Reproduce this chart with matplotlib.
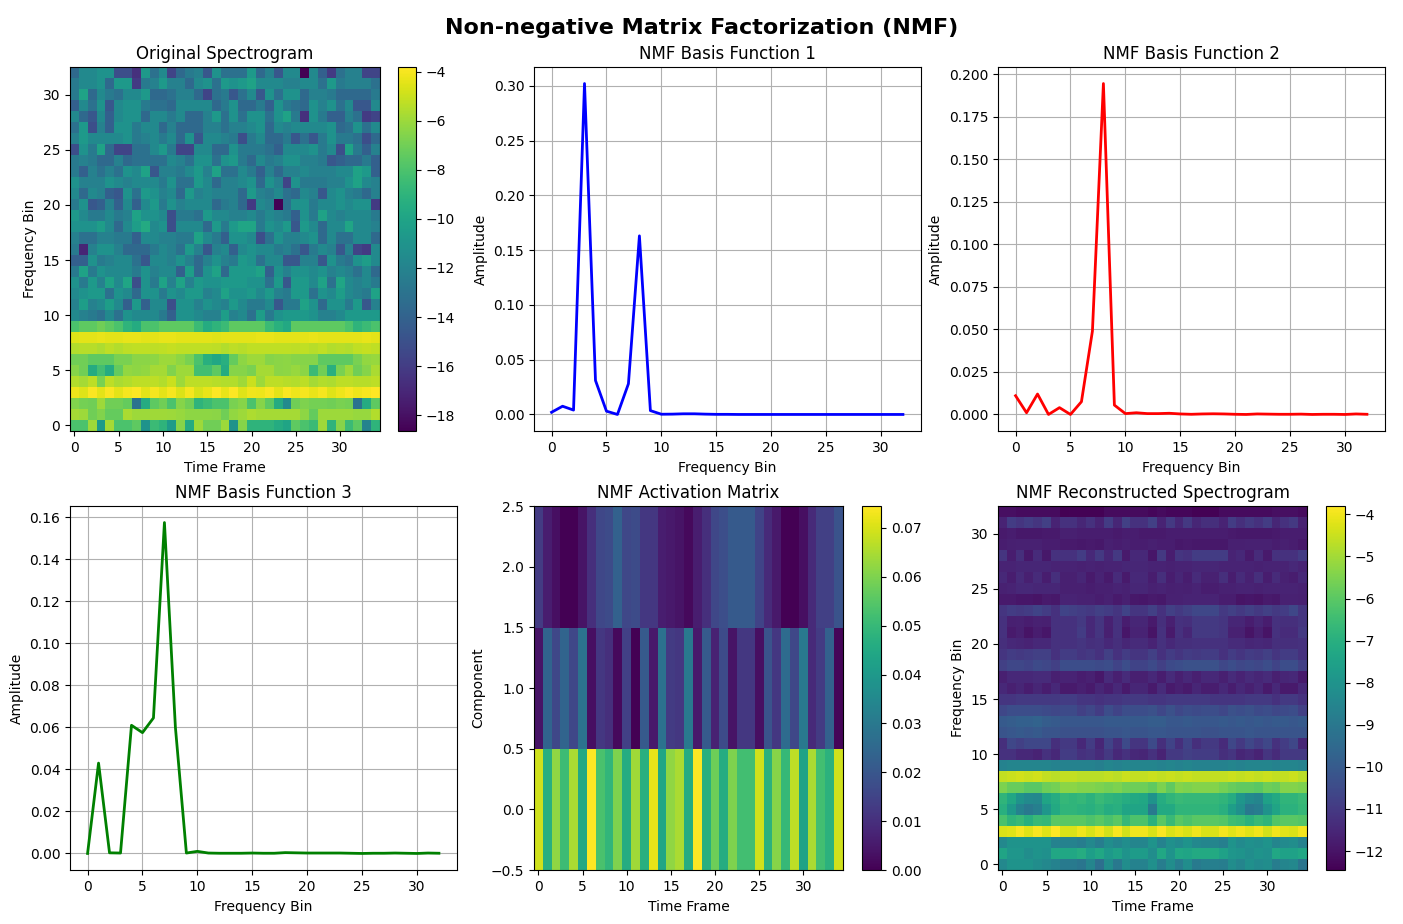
import numpy as np
import matplotlib
matplotlib.use("Agg")
import matplotlib.pyplot as plt

# Rows listed from the top of each picture (bin 32) down to bin 0
original_spectrogram = [
 [-13,-11,-11,-10.5,-10.5, -14.5,-14.5,-16,-10,-12.5, -11,-15,-13,-12,-11.5, -14,-10.5,-12.5,-12.5,-12.5, -10,-13,-11.5,-14,-11, -11,-18.6,-11,-13.5,-15.5, -12.5,-11.5,-11.5,-15,-15],
 [-12,-11,-11,-10.5,-13, -10,-10,-15.5,-12,-11.5, -10,-11.5,-11.5,-13,-11, -10.5,-12.5,-10,-10.5,-10, -9.5,-11,-11,-11,-11.5, -11.5,-11,-11,-12.5,-10, -12,-11.5,-11.5,-11.5,-12.5],
 [-12,-9.5,-13,-11,-12, -12.5,-11,-11,-10,-13, -13,-12.5,-11.5,-11.5,-13, -15,-12.5,-12,-14,-12.5, -11,-14,-10.5,-12.5,-10.5, -10.5,-13,-11.5,-11.5,-12, -13,-13,-13,-13,-12],
 [-13.5,-11,-12.5,-10.5,-14, -11,-10.5,-10.5,-12,-12.5, -12.5,-13,-11,-11,-11, -11,-13,-12,-10.5,-13, -13,-12,-13.5,-10.5,-12, -12.5,-13,-10.5,-11.5,-10.5, -12.5,-11,-14,-14,-11],
 [-11,-13,-14,-11,-13.5, -11,-10.5,-10.5,-13,-11, -11,-12,-11,-13,-13, -11.5,-10,-12.5,-10.5,-12.5, -10.5,-10.5,-12.5,-10.5,-9.5, -12,-16,-10.5,-12,-13.5, -13.5,-11.5,-12.5,-15.5,-15],
 [-12.5,-10,-14.5,-11.5,-13.5, -10.5,-10.5,-12,-11,-11, -13,-11.5,-13,-13,-13, -11.5,-11.5,-12.5,-11.5,-11.5, -11,-10.5,-13,-11,-11.5, -11,-11,-11,-11,-10.5, -13,-12.5,-10.5,-12.5,-11],
 [-11.5,-10,-11,-11,-11, -11,-10.5,-12,-11.5,-11, -12,-11,-13,-10.5,-14, -11,-11,-11.5,-12,-14.5, -12,-11,-13,-13,-12, -14,-12.5,-14,-12,-10.5, -12,-12,-12.5,-14.5,-13],
 [-14.5,-10.5,-12,-9.5,-13, -15,-15,-12.5,-12.5,-11, -10,-12,-15,-15,-11, -11,-13,-13,-10.5,-12, -12,-12,-12.5,-13.5,-11, -11,-11,-10.5,-12,-11, -14.5,-9.5,-12,-13.5,-11.5],
 [-12,-11.5,-12,-13,-13, -11.5,-13,-12.5,-12.5,-12.5, -12.5,-11,-11.5,-12.5,-10.5, -10.5,-12.5,-10.5,-10,-12, -13,-11,-12,-11.5,-10.5, -10.5,-11.5,-11.5,-12,-14, -13.5,-13,-13,-12,-13.5],
 [-12,-13.5,-11.5,-12.5,-11.5, -12.5,-10.5,-11,-9.5,-14, -11.5,-11.5,-12,-11,-10, -11.5,-9.5,-12.5,-12.5,-11, -12,-13.5,-11.5,-13,-11.5, -11.5,-11,-11.5,-11.5,-11.5, -11,-11,-9.5,-10,-13.5],
 [-10.5,-11.5,-11.5,-11.5,-10.5, -11,-11.5,-11,-11,-11, -12,-10.5,-12.5,-12.5,-10, -11,-13,-11.5,-11.5,-11, -10.5,-13,-10.5,-11.5,-15, -10.5,-12,-12,-12,-11.5, -11.5,-10.5,-9.5,-11,-11.5],
 [-11,-13,-11,-11.5,-13.5, -14,-10.5,-12.5,-10,-10.5, -11.5,-11,-13,-10,-11.5, -11,-11.5,-11.5,-11.5,-13, -10,-11.5,-12,-11,-12.5, -13,-11,-11.5,-14,-11, -10.5,-11.5,-12,-13,-11.5],
 [-12,-10.5,-14,-13.5,-11.5, -13.5,-11,-13.5,-11,-10, -12,-10.5,-11.5,-11,-11, -11,-13,-12,-11.5,-13, -15.5,-11,-11.5,-18.5,-12.5, -10.5,-10.5,-12,-11,-11, -10.5,-11,-10.5,-10.5,-15.5],
 [-10,-11,-12,-12,-11, -12,-11.5,-9.5,-10.5,-10.5, -11,-14.5,-12,-12,-12.5, -10,-11,-11,-11.5,-11.5, -11,-12,-11,-11.5,-12, -13.5,-10.5,-12,-9.5,-11, -11.5,-11,-11,-11,-12],
 [-10.5,-10.5,-10.5,-9.8,-11, -13,-11,-9.8,-9,-11, -10.5,-14.5,-11,-11,-11, -13,-10,-12,-10,-9.3, -9.3,-12,-10.5,-11,-10, -14,-10,-11,-13,-11, -11,-9.3,-11,-11,-11.5],
 [-11.5,-12.5,-12.5,-11.5,-11.5, -12,-12,-13.5,-11,-11, -11.5,-11.5,-12,-12,-9.5, -11,-12,-13.5,-10.5,-10.5, -11,-14.5,-12.5,-10.5,-11.5, -11.5,-11,-10.5,-13,-11, -12.5,-12.5,-11,-11,-13],
 [-12,-16.5,-11.5,-10.5,-10.5, -11.5,-13,-13,-13,-12, -11,-11.5,-12.5,-10,-11.5, -14,-11.5,-11,-13.5,-11, -10.5,-11,-11,-12,-11.5, -12.5,-14,-12,-11,-11.5, -14,-11.5,-15,-15.5,-11],
 [-13.5,-13.5,-10.5,-12,-11.5, -11,-11,-12.5,-14,-11, -11,-11.5,-10.5,-11.5,-13, -11.5,-10.5,-11.5,-12,-10, -10.5,-12.5,-11,-11,-14, -14,-11.5,-11.5,-14,-10.5, -12,-12.5,-10.5,-9.8,-11],
 [-12,-9.5,-12,-10.5,-11, -11,-11,-12,-10.5,-11.5, -11,-11,-13.5,-9.8,-13, -10.5,-9.5,-13,-10,-10, -10,-9.5,-13.5,-10.5,-11.5, -10.5,-10.5,-11,-10.5,-11.5, -11,-11.5,-12.5,-11,-13],
 [-10.5,-12,-10,-11.5,-9.5, -11,-9.3,-14.5,-10.5,-12, -9.5,-11.5,-9.5,-11.5,-10, -10.5,-10.5,-10,-10,-10, -10.5,-10.5,-12.5,-10,-14, -10,-10,-11,-9.5,-12.5, -9.3,-11,-11.5,-11,-12],
 [-11,-10.5,-10,-10,-12.5, -10.5,-11,-13,-10.5,-10.5, -12,-10.5,-11,-10,-10, -11.5,-11,-9.5,-10.5,-10.5, -10,-11,-10,-11.5,-12, -10,-10,-12.5,-10.5,-11, -9.8,-11,-11.5,-12,-9.5],
 [-11.5,-9.8,-11.5,-11,-9.8, -11,-13.5,-10,-13.5,-11, -11,-14.5,-10.5,-10.5,-11.5, -10.5,-11,-11.5,-10,-11, -12,-12,-11,-14,-12, -12,-9.5,-10.5,-13,-10.5, -10.5,-12,-10,-14,-11.5],
 [-11,-11.5,-12,-12.5,-11, -12.5,-10.5,-11,-11,-11, -12,-13.5,-10.5,-10.5,-11, -11.5,-11.5,-9.8,-11.5,-11, -12.5,-9.8,-12,-10.5,-10, -10,-10,-10.5,-11.5,-11.5, -11,-10,-10,-10,-10],
 [-8,-7.5,-7.5,-7,-7.5, -8,-9,-9.5,-8,-8, -7.5,-7.5,-7.5,-7.5,-8.5, -9.5,-9,-8.5,-7.5,-7.5, -7.5,-7.5,-8.5,-9.2,-9.7, -7.5,-7.5,-7.5,-7.5,-7.5, -7.5,-8,-9,-8.5,-8],
 [-4.5,-4.4,-4.4,-4.3,-4.4, -4.4,-4.3,-4.3,-4.4,-4.4, -4.3,-4.3,-4.4,-4.4,-4.4, -4.4,-4.5,-4.4,-4.4,-4.4, -4.4,-4.3,-4.3,-4.4,-4.4, -4.4,-4.4,-4.3,-4.4,-4.4, -4.4,-4.4,-4.4,-4.3,-4.4],
 [-5.5,-5.4,-5.4,-5.6,-5.3, -5.5,-5.3,-5.2,-5.2,-5.3, -5.2,-5.1,-5.2,-5.2,-5.2, -5.2,-5.3,-5.5,-5.3,-5.4, -5.2,-5.2,-5.2,-5.2,-5.2, -5.3,-5.2,-5.4,-5.2,-5.5, -5.4,-5.5,-5.2,-5.1,-5.2],
 [-7,-7,-7.5,-7.5,-7.5, -6.8,-6.8,-6.4,-6.4,-6.3, -6,-6,-6.3,-6.8,-8, -9.3,-9.8,-9.3,-7.3,-6.3, -6,-6,-6.5,-6.4,-6.3, -6.5,-6.5,-6.5,-7.5,-7.5, -7.5,-7.5,-6.8,-6.2,-6.1],
 [-6.5,-7,-9.5,-8.3,-9.5, -7.3,-6.2,-6.3,-6.2,-5.8, -5.8,-6.6,-6,-6,-8.3, -8.3,-7.5,-9.5,-6.5,-6.5, -6.8,-5.8,-5.8,-6.4,-6.3, -6.1,-6.4,-8.5,-7,-9.3, -6.8,-6,-7,-6.5,-5.7],
 [-5.5,-5.8,-5.3,-6.8,-5.3, -5.7,-5.5,-5.3,-5.3,-5.3, -5.5,-5,-6,-5.3,-5.3, -5.3,-5.4,-5.5,-5.5,-5.9, -5,-6,-5.3,-5.3,-5.4, -5.5,-5.3,-5.8,-5.5,-5.6, -5.3,-5.3,-5.4,-5.4,-5.3],
 [-4.2,-4.5,-3.9,-4.4,-3.9, -4.4,-4,-3.8,-4.4,-4, -4.4,-4,-4.6,-4,-4.7, -4.3,-3.8,-4.3,-3.8,-4.5, -4.1,-4.2,-3.9,-4.4,-3.9, -4.2,-4,-4.3,-4,-4.5, -4.2,-3.9,-4.2,-4,-3.85],
 [-6.6,-6.9,-7,-6,-7, -7,-7.3,-13,-9.5,-7.5, -7,-8,-6.5,-7,-9, -8.5,-8,-8,-6.8,-6.5, -8,-6.5,-7.5,-9.5,-11.5, -7,-6.7,-6.9,-6.9,-7, -6.8,-6.9,-13,-9.5,-7.5],
 [-5.8,-6,-7,-6.6,-7.3, -7.3,-5.7,-6,-6,-5.9, -5.9,-6,-6.1,-6.3,-6.3, -6.3,-6.4,-7,-6.2,-6, -5.6,-5.8,-5.8,-5.8,-5.8, -5.8,-6.3,-7.3,-6,-6, -6,-6,-6.1,-6.1,-5.5],
 [-8,-8,-6,-10.5,-5.8, -8,-8,-7.5,-11,-8.5, -9,-10.5,-6.5,-9.5,-6, -7,-7,-6,-11,-6.5, -9,-9,-9,-9.5,-10, -7.5,-8,-8.5,-6,-9, -6.5,-8.5,-7.5,-12,-9],
]

reconstructed_spectrogram = [
 [-12.1,-12.1,-12.2,-12.2,-12.2, -12.2,-12.2,-12.45,-12.4,-12.4, -12.4,-12.4,-12.2,-12.2,-12.2, -12.2,-12.2,-12.3,-12.2,-12.3, -12.3,-12.3,-12.4,-12.4,-12.4, -12.2,-12.2,-12.2,-12.2,-12.2, -12.2,-12.1,-12.1,-12.1,-12.2],
 [-11.7,-10.9,-11.1,-10.9,-11.1, -10.8,-11.7,-11.2,-11.2,-11.6, -11.2,-11.7,-10.9,-11.6,-10.8, -11.2,-11.2,-10.8,-11.7,-11, -11.6,-11,-11.6,-11.3,-11.3, -11.7,-10.9,-11.3,-11,-11.2, -10.9,-11.6,-11.2,-11,-11.8],
 [-12.1,-12,-12.2,-12.2,-12.2, -12.1,-12.1,-11.9,-11.9,-12, -12,-12,-12,-12.1,-12, -12,-12.1,-12.1,-12.1,-12, -12,-12,-12,-12,-12, -12,-12.1,-12.2,-12.2,-12.2, -12.2,-12.1,-12,-12,-12],
 [-12,-11.9,-11.8,-11.8,-11.8, -12,-12,-12.1,-12.1,-12.2, -12.1,-12.2,-11.9,-12,-11.9, -12,-12,-11.9,-12,-12, -12.2,-12.1,-12.2,-12.2,-12.2, -12.2,-11.9,-11.9,-11.8,-11.8, -11.8,-12,-11.9,-12,-12.2],
 [-11.1,-12,-11.3,-12.2,-11.4, -12.2,-11.2,-11.2,-11.2,-10.9, -11.5,-11,-11.6,-11,-12.1, -11.5,-11.5,-12.3,-11,-12, -11.1,-11.2,-10.9,-10.9,-10.9, -10.9,-11.7,-11.5,-12.1,-11.4, -12.1,-11.2,-11.2,-11.2,-10.9],
 [-11.7,-11.7,-11.6,-11.6,-11.6, -11.6,-11.7,-11.7,-11.7,-11.8, -11.7,-11.8,-11.7,-11.7,-11.6, -11.6,-11.6,-11.7,-11.7,-11.8, -11.7,-11.7,-11.6,-11.6,-11.6, -11.7,-11.7,-11.7,-11.7,-11.8, -11.7,-11.7,-11.7,-11.5,-11.7],
 [-11.5,-12,-11.4,-11.9,-11.4, -12,-11.3,-11.9,-11.9,-11.6, -12.1,-11.7,-12.1,-11.4,-12.1, -11.5,-11.5,-12,-11.3,-12, -11.6,-12,-11.4,-11.8,-11.8, -11.3,-12,-11.4,-11.8,-11.3, -12,-11.4,-11.8,-12,-11.5],
 [-11.8,-11.7,-11.5,-11.5,-11.6, -11.6,-11.6,-11.9,-11.9,-11.9, -12,-11.9,-11.9,-11.7,-11.8, -11.6,-11.6,-11.8,-11.7,-11.9, -11.8,-11.9,-11.7,-12,-12, -11.8,-11.8,-11.7,-11.7,-11.8, -11.7,-11.7,-11.7,-11.7,-11.8],
 [-12.1,-12.1,-12.3,-12.3,-12.4, -12.1,-12.2,-11.7,-11.7,-11.8, -11.8,-12,-11.8,-12.1,-11.9, -12.2,-12.3,-12.1,-12.2,-11.8, -11.8,-11.7,-11.7,-11.7,-11.7, -12,-12,-12.4,-12.3,-12.4, -12.1,-12.2,-11.8,-11.8,-11.9],
 [-11.1,-10.9,-11,-10.9,-10.7, -10.9,-11.2,-10.7,-10.8,-10.9, -11,-10.8,-10.9,-11.1,-10.7, -11.1,-11.1,-10.8,-11.2,-10.8, -11,-10.8,-10.6,-10.6,-10.6, -11,-10.8,-11,-10.8,-11, -10.8,-11,-10.9,-10.6,-11.1],
 [-11.2,-11.9,-11.8,-12,-11.8, -11.9,-11.2,-11.2,-11.2,-11, -11.5,-11.1,-11.8,-11.2,-12, -11.6,-11.6,-12.1,-11.3,-11.9, -11.2,-11.3,-11,-11,-11, -11.1,-11.6,-11.6,-12,-11.6, -12,-11.2,-11.3,-11.3,-11.1],
 [-11.2,-12.1,-11.9,-12.4,-12, -12.3,-11.2,-11.2,-11.2,-10.9, -11.5,-11.1,-11.9,-11.2,-12.3, -11.7,-11.7,-12.4,-11.2,-12.1, -11.2,-11.6,-11,-11,-11, -11.1,-11.8,-11.8,-12.4,-11.9, -12.4,-11.2,-11.4,-11.4,-11],
 [-11.3,-11.5,-11.6,-11.7,-11.5, -11.5,-11.2,-11.2,-11.2,-11.1, -11.3,-11.2,-11.5,-11.3,-11.6, -11.4,-11.4,-11.7,-11.2,-11.5, -11.3,-11.3,-11.2,-11.2,-11.2, -11.2,-11.4,-11.4,-11.6,-11.5, -11.6,-11.3,-11.3,-11.3,-11.2],
 [-11.1,-10.9,-11,-10.9,-10.8, -10.8,-11.2,-10.9,-10.9,-11.1, -11,-11.2,-10.8,-11.2,-10.9, -11.1,-11.1,-10.8,-11.2,-10.9, -11.1,-10.9,-11,-10.9,-10.9, -11.2,-10.9,-11.1,-10.9,-11, -10.8,-11.1,-10.9,-10.9,-11.2],
 [-10.8,-10.6,-10.6,-10.7,-10.5, -10.6,-10.8,-10.4,-10.4,-10.4, -10.4,-10.5,-10.4,-10.7,-10.4, -10.7,-10.7,-10.5,-10.8,-10.5, -10.4,-10.3,-10.3,-10.3,-10.3, -10.6,-10.4,-10.6,-10.5,-10.6, -10.4,-10.7,-10.4,-10.4,-10.8],
 [-11.9,-11.5,-11.5,-11.5,-11.4, -11.4,-11.9,-11.7,-11.7,-12, -11.8,-12.2,-11.4,-11.9,-11.4, -11.9,-11.9,-11.5,-12,-11.4, -11.9,-11.5,-11.9,-11.5,-11.5, -11.9,-11.4,-11.7,-11.4,-11.6, -11.4,-11.9,-11.6,-11.5,-12.1],
 [-11.5,-11.9,-11.6,-12,-11.6, -12,-11.5,-12.1,-12.1,-11.9, -12.1,-11.6,-12,-11.5,-12.1, -11.6,-11.6,-12.1,-11.4,-12.1, -11.9,-12.1,-11.6,-12,-12, -11.5,-12,-11.5,-11.9,-11.5, -12.1,-11.5,-12.1,-12.1,-11.5],
 [-11.1,-11.1,-11,-11,-11, -11,-11,-10.9,-10.9,-11.1, -11.1,-11.2,-11.1,-11.1,-11, -11,-11,-11.1,-11.1,-11, -11,-11,-11,-11,-11.1, -11.1,-11.1,-11.1,-11,-11, -11,-11.2,-11,-11,-11.2],
 [-10.6,-10.4,-10.4,-10.4,-10.4, -10.5,-10.6,-10.5,-10.5,-10.8, -10.6,-10.9,-10.4,-10.7,-10.4, -10.4,-10.4,-10.3,-10.6,-10.3, -10.6,-10.4,-10.5,-10.4,-10.4, -10.6,-10.3,-10.4,-10.3,-10.5, -10.4,-10.6,-10.5,-10.4,-10.8],
 [-10,-9.9,-9.8,-9.8,-9.7, -9.9,-10,-10.1,-10.1,-10.1, -10.1,-10.1,-10,-10,-10, -10,-10,-9.9,-9.9,-10.1, -10.1,-10,-10.1,-10.1,-10.1, -10,-10.1,-10,-10.1,-10, -10.1,-10,-10,-10.1,-10],
 [-10.2,-10.1,-10,-10.1,-10, -10.2,-10.2,-10.3,-10.3,-10.3, -10.3,-10.3,-10.2,-10.2,-10.1, -10.2,-10.2,-10.1,-10.1,-10.2, -10.2,-10.2,-10.2,-10.3,-10.3, -10.2,-10.2,-10.2,-10.1,-10.2, -10.2,-10.2,-10.2,-10.2,-10.2],
 [-11.3,-10.6,-10.8,-10.6,-10.6, -10.6,-11.3,-11,-11,-11.5, -10.9,-11.6,-10.7,-11.3,-10.5, -11.1,-11.1,-10.5,-11.3,-10.7, -11.3,-10.7,-11.3,-11,-11, -11.4,-10.6,-11,-10.6,-10.9, -10.6,-11.2,-10.9,-10.6,-11.6],
 [-11.2,-11.2,-11.5,-11.5,-11.7, -11.2,-11.5,-10.9,-10.9,-11.2, -11.1,-11.4,-11,-11.5,-11.2, -11.5,-11.6,-11.2,-11.7,-11, -11,-10.8,-10.9,-10.9,-10.9, -11.3,-11.1,-11.6,-11.4,-11.7, -11.1,-11.4,-11,-11,-11],
 [-8.6,-8.5,-8.5,-8.5,-8.5, -8.5,-8.6,-8.6,-8.6,-8.6, -8.6,-8.7,-8.5,-8.6,-8.5, -8.5,-8.5,-8.5,-8.6,-8.5, -8.6,-8.5,-8.6,-8.6,-8.6, -8.6,-8.5,-8.6,-8.5,-8.5, -8.5,-8.6,-8.5,-8.5,-8.6],
 [-4.6,-4.5,-4.4,-4.5,-4.4, -4.6,-4.7,-4.6,-4.6,-4.7, -4.7,-4.7,-4.6,-4.7,-4.5, -4.6,-4.6,-4.5,-4.6,-4.5, -4.6,-4.5,-4.6,-4.6,-4.6, -4.6,-4.5,-4.6,-4.5,-4.6, -4.5,-4.6,-4.6,-4.5,-4.7],
 [-5.5,-5.8,-5.8,-6,-6, -5.7,-5.6,-5.3,-5.3,-5.4, -5.4,-5.5,-5.6,-5.5,-5.7, -5.7,-5.7,-5.9,-5.5,-5.9, -5.4,-5.5,-5.4,-5.4,-5.4, -5.6,-5.8,-5.9,-5.9,-6, -5.7,-5.8,-5.4,-5.4,-5.5],
 [-6.8,-7.3,-8,-8.3,-8.4, -7.4,-7.1,-6.7,-6.8,-6.7, -6.9,-6.6,-6.8,-6.9,-7.1, -7.2,-7.3,-8,-7.1,-6.8, -6.6,-6.7,-6.7,-6.7,-6.7, -6.8,-7.1,-7.9,-8.3,-8.5, -7.5,-7.2,-6.8,-6.8,-6.6],
 [-7,-7.8,-8.6,-9,-8.7, -7.9,-7.2,-6.8,-6.8,-6.9, -7,-6.8,-7.1,-7,-7.4, -7.4,-7.4,-8.9,-7.2,-7.2, -6.8,-6.8,-6.8,-6.8,-6.8, -7,-7.6,-8.1,-9,-8.8, -8,-7.4,-6.9,-6.9,-6.7],
 [-6.3,-6.8,-6.6,-7,-6.6, -6.7,-6,-6,-6,-6, -6.2,-6,-6.3,-6,-6.7, -6.2,-6.2,-6.9,-6,-6.6, -6,-6.2,-6,-6,-6, -6.1,-6.5,-6.6,-6.9,-6.6, -6.8,-6.1,-6,-6,-6.1],
 [-4.3,-4.2,-3.9,-4.2,-3.9, -4.2,-3.8,-4.3,-4.3,-4, -4.3,-4,-4.4,-3.9,-4.4, -3.95,-3.95,-4.3,-3.85,-4.3, -4.1,-4.3,-4,-4.3,-4.3, -3.95,-4.2,-4,-4.2,-4, -4.4,-4,-4.2,-4.3,-3.95],
 [-8.4,-8,-8,-8,-8, -8,-8.6,-8.6,-8.6,-8.8, -8.4,-8.8,-8.2,-8.5,-8.2, -8.5,-8.5,-8,-8.6,-8.1, -8.3,-8,-8.4,-8.5,-8.5, -8.7,-8,-8.3,-8.1,-8.2, -8,-8.5,-8.3,-8.2,-8.6],
 [-7.4,-7.9,-7.9,-8.2,-8, -8.1,-7.3,-7.3,-7.3,-7.1, -7.6,-7.3,-7.8,-7.5,-8, -7.7,-7.7,-8.2,-7.3,-8, -7.3,-7.4,-7.2,-7.2,-7.2, -7.5,-7.9,-8,-8.2,-8, -8.1,-7.3,-7.5,-7.5,-7.3],
 [-8.4,-8,-8,-8,-8.2, -8.4,-8.6,-8.9,-8.9,-9.1, -8.5,-9.3,-8.2,-9,-8.2, -8.6,-8.6,-8.1,-8.8,-8.2, -8.8,-8.2,-8.9,-8.7,-8.7, -8.8,-8.2,-8.5,-8.1,-8.3, -8.2,-8.8,-8.5,-8.4,-9.1],
]

activation_top = [.013,.006,.003,0,0, .004,.010,.016,.017,.023, .016,.017,.012,.012,.006, .005,.004,.002,.006,.010, .016,.018,.021,.021,.021, .015,.009,.005,0,0, .003,.009,.014,.014,.019]
activation_mid = [.004,.024,.016,.024,.016, .028,.003,.012,.010,.002, .014,0,.021,.005,.028, .013,.012,.030,.005,.021, .007,.017,.004,.012,.012, .003,.019,.012,.026,.016, .030,.009,.013,.023,.001]
activation_low = [.069,.047,.062,.051,.065, .045,.0745,.053,.049,.060, .046,.064,.047,.072,.044, .062,.065,.046,.0745,.047, .058,.046,.060,.052,.052, .069,.048,.061,.050,.067, .043,.065,.052,.048,.069]

basis_1 = [.002,.0075,.004,.302,.031,.003,0,.028,.163,.0035,.0002,.0003,.0006,.0006,.0003,.0001,.0001,0,0,0,0,0,0,0,0,0,0,0,0,0,0,0,0]
basis_2 = [.011,.001,.012,0,.004,0,.0075,.049,.1945,.0055,.0005,.001,.0005,.0005,.0007,.0003,.0001,.0003,.0004,.0003,.0001,0,.0003,.0002,.0001,.0001,.0002,0,.0001,.0001,0,.0003,.0001]
basis_3 = [0,.043,.0003,.0002,.061,.0575,.0645,.1575,.06,.0002,.001,.0002,.0001,.0001,.0001,.0002,.0001,.0001,.0004,.0003,.0002,.0002,.0002,.0002,.0001,0,.0001,.0001,.0002,.0001,0,.0002,.0001]

# Calibration of the colour readings
noise_shift = -0.6          # noise rows (bins 10 to 32) of the original read slightly too green
floor_original = -18.65
pivot_recon = -11.4         # dark cells of the reconstruction read slightly too dark
contrast_recon = 0.6

W, H = 1403, 924
fig = plt.figure(figsize=(W / 100, H / 100), dpi=100)

def box(x0, x1, y0, y1):
    return fig.add_axes([x0 / W, 1 - y1 / H, (x1 - x0) / W, (y1 - y0) / H])

def heat(ax_box, cbar_box, values, title, xlabel, ylabel):
    ax = box(*ax_box)
    im = ax.imshow(np.array(values), aspect="auto", origin="lower", cmap="viridis")
    ax.set_title(title, fontsize=12, pad=5.5)
    ax.set_xlabel(xlabel, labelpad=4.5)
    ax.set_ylabel(ylabel)
    fig.colorbar(im, cax=box(*cbar_box))
    return ax

def curve(ax_box, values, color, title):
    ax = box(*ax_box)
    ax.plot(values, color=color, linewidth=2)
    ax.set_title(title, fontsize=12, pad=5.5)
    ax.set_xlabel("Frequency Bin", labelpad=4.5)
    ax.set_ylabel("Amplitude")
    ax.grid(True)
    return ax

original = np.array(original_spectrogram[::-1], dtype=float)
original[10:] = np.maximum(original[10:] + noise_shift, floor_original)

recon = np.array(reconstructed_spectrogram[::-1], dtype=float)
upper = recon[10:32]
recon[10:32] = np.where(upper < pivot_recon, pivot_recon + contrast_recon * (upper - pivot_recon), upper)

heat((70, 380, 67, 431), (398, 416, 67, 431), original,
     "Original Spectrogram", "Time Frame", "Frequency Bin")
curve((534, 920.5, 67, 431), basis_1, "blue", "NMF Basis Function 1")
curve((998, 1384.5, 67, 431), basis_2, "red", "NMF Basis Function 2")
curve((70, 456.5, 506, 870), basis_3, "green", "NMF Basis Function 3")
heat((534, 843, 506, 870), (862, 881, 506, 870), [activation_low, activation_mid, activation_top],
     "NMF Activation Matrix", "Time Frame", "Component")
heat((998, 1307, 506, 870), (1326, 1345, 506, 870), recon,
     "NMF Reconstructed Spectrogram", "Time Frame", "Frequency Bin")

fig.text(701.5 / W, 1 - 28 / H, "Non-negative Matrix Factorization (NMF)",
         fontsize=16, fontweight="bold", ha="center", va="center")
fig.savefig("out.png", dpi=100)
